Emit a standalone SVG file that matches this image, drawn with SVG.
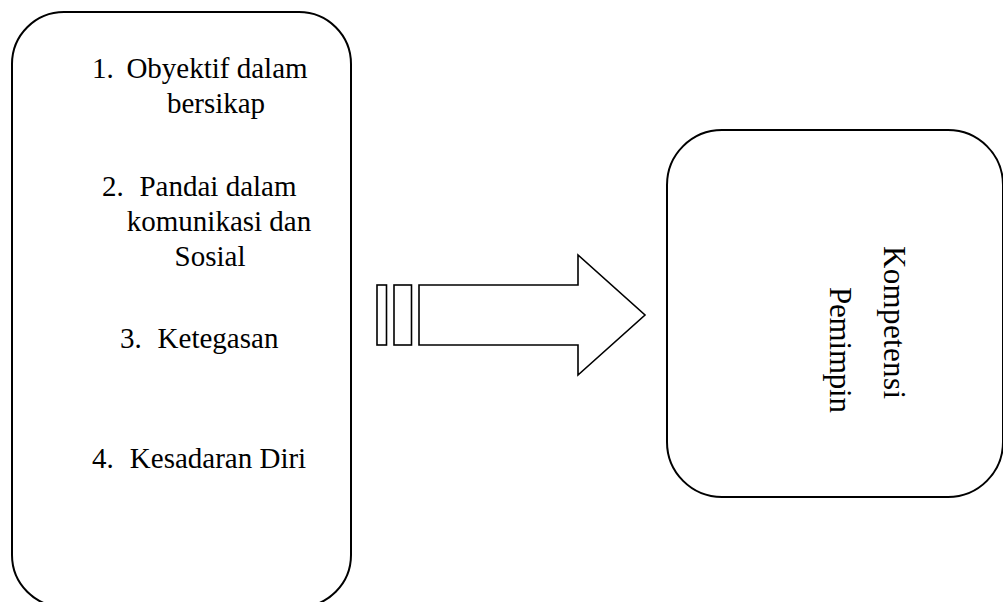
<svg xmlns="http://www.w3.org/2000/svg" width="1003" height="602" viewBox="0 0 1003 602">
<style>
.box{fill:#fff;stroke:#000;stroke-width:2}
.arr{fill:#fff;stroke:#000;stroke-width:1.6}
.t{font-family:"Liberation Serif","Times New Roman",serif;font-size:29px;fill:#000}
.c{text-anchor:middle}
.r{font-family:"Liberation Serif","Times New Roman",serif;font-size:31px;fill:#000}
</style>
<rect width="1003" height="602" fill="#fff"/>
<g id="node-left">
<rect class="box" x="12" y="12" width="339" height="595" rx="52" ry="52"/>
<text class="t" x="92" y="78">1.</text>
<text class="t c" x="217" y="78">Obyektif dalam</text>
<text class="t c" x="216" y="113">bersikap</text>
<text class="t" x="102" y="196">2.</text>
<text class="t c" x="218" y="196">Pandai dalam</text>
<text class="t c" x="219" y="231">komunikasi dan</text>
<text class="t c" x="210" y="266">Sosial</text>
<text class="t" x="120" y="348">3.</text>
<text class="t c" x="218" y="348">Ketegasan</text>
<text class="t" x="92" y="468">4.</text>
<text class="t c" x="218" y="468">Kesadaran Diri</text>
</g>
<g id="connectors">
<rect class="arr" x="377" y="285" width="9.5" height="60"/>
<rect class="arr" x="394" y="285" width="17.5" height="60"/>
<path class="arr" d="M419 285 H578 V255 L645 315 L578 375 V345 H419 Z"/>
</g>
<g id="node-right">
<rect class="box" x="667" y="130" width="336" height="367" rx="55" ry="55"/>
<text class="r" transform="translate(884,246) rotate(90)" textLength="153">Kompetensi</text>
<text class="r" transform="translate(830,287) rotate(90)" textLength="126">Pemimpin</text>
</g>
</svg>
